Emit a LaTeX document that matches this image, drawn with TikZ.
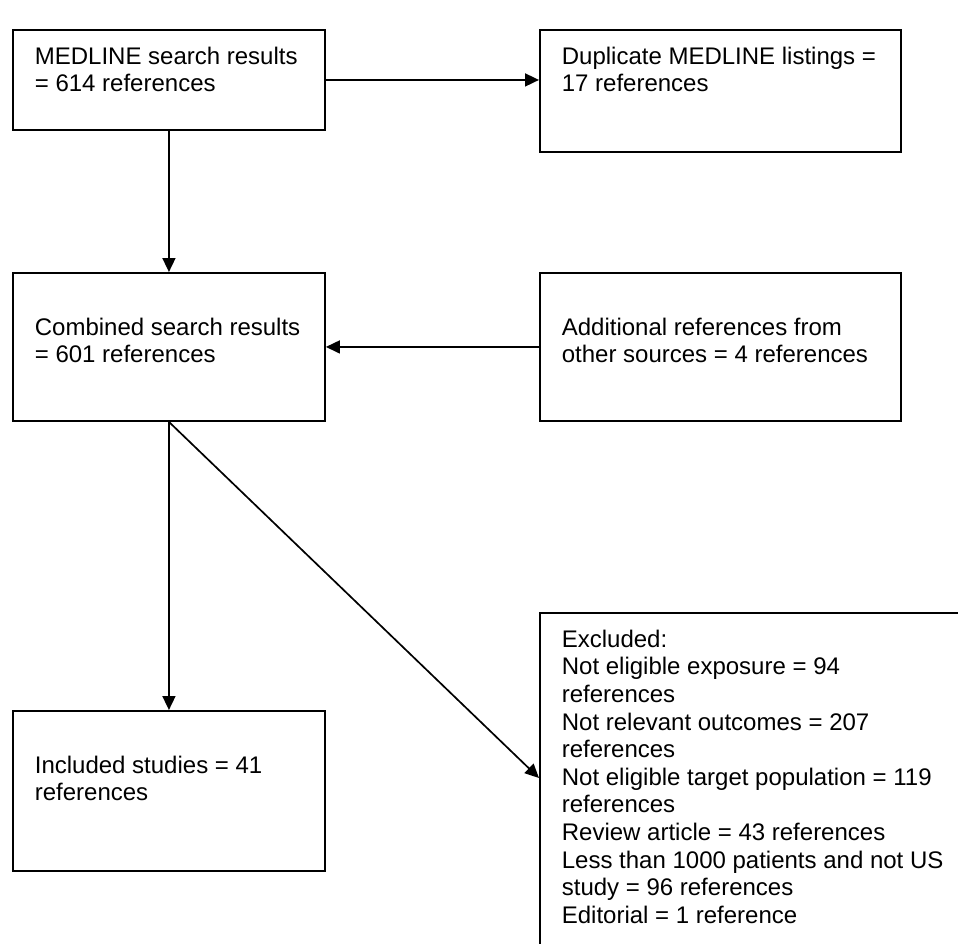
\documentclass[tikz,border=0pt]{standalone}
\usepackage{fontspec}
\setmainfont{Liberation Sans}
\usetikzlibrary{arrows.meta, positioning}
\tikzstyle{frame} = [rectangle,
draw=black,
line width=1.9pt,
anchor=north west,
inner sep=0pt]
\tikzstyle{words} = [align=left,
inner sep=0pt,
font=\fontsize{24}{27.6}\selectfont]

\begin{document}
\begin{tikzpicture}[x=1pt, y=-1pt, line width=1.7pt,
    >={Triangle[width=13pt,length=14pt]}
    ]
    \useasboundingbox (0,0) rectangle (958,944);

    % boxes
    \node (medline) [frame, minimum width=312pt, minimum height=100pt] at (12,29) {};
    \node (dup) [frame, minimum width=361pt, minimum height=122pt] at (539,29) {};
    \node (comb) [frame, minimum width=312pt, minimum height=148pt] at (12,272) {};
    \node (add) [frame, minimum width=361pt, minimum height=148pt] at (539,272) {};
    \node (incl) [frame, minimum width=312pt, minimum height=160pt] at (12,710) {};
    \node (excl) [frame, minimum width=430pt, minimum height=350pt] at (539,612) {};

    % texts
    \node (medtxt) [words, below right=17pt and 22pt of medline.north west] {MEDLINE search results\\= 614 references};
    \node (duptxt) [words, below right=17pt and 22pt of dup.north west] {Duplicate MEDLINE listings =\\17 references};
    \node (combtxt) [words, below right=45pt and 22pt of comb.north west] {Combined search results\\= 601 references};
    \node (addtxt) [words, below right=45pt and 22pt of add.north west] {Additional references from\\other sources = 4 references};
    \node (incltxt) [words, below right=45pt and 22pt of incl.north west] {Included studies = 41\\references};
    \node (excltxt) [words, below right=17pt and 22pt of excl.north west] {Excluded:\\Not eligible exposure = 94\\references\\Not relevant outcomes = 207\\references\\Not eligible target population = 119\\references\\Review article = 43 references\\Less than 1000 patients and not US\\study = 96 references\\Editorial = 1 reference};

    % arrows
    \coordinate (exin) at ([yshift=-166pt]excl.north west);
    \draw[->] (medline.east) -- (medline.east -| dup.west);
    \draw[->] (medline.south) -- (comb.north);
    \draw[->] (add.west) -- (comb.east);
    \draw[->] (comb.south) -- (incl.north);
    \draw[->] (comb.south) -- (exin);

\end{tikzpicture}
\end{document}
